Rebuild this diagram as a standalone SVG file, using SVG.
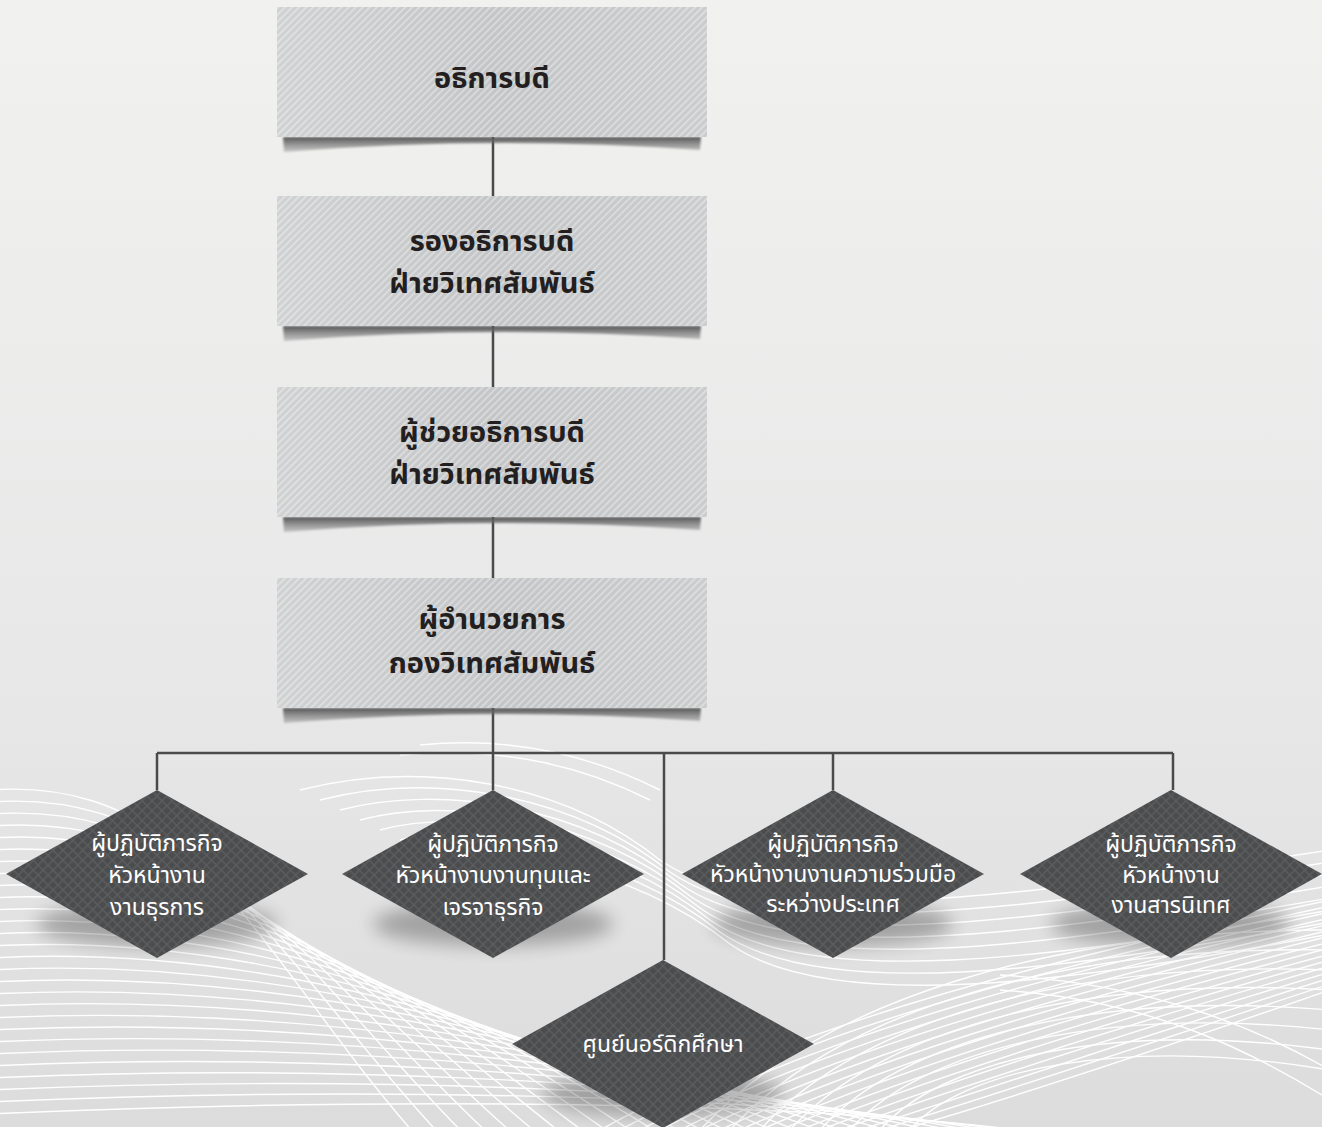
<svg xmlns="http://www.w3.org/2000/svg" width="1322" height="1127" viewBox="0 0 1322 1127">
<defs>
<linearGradient id="bg" x1="0" y1="0" x2="0" y2="1">
<stop offset="0" stop-color="#f1f1f0"/><stop offset="0.6" stop-color="#e8e8e8"/><stop offset="1" stop-color="#dcdcdc"/>
</linearGradient>
<linearGradient id="boxg" x1="0" y1="0" x2="1" y2="0">
<stop offset="0" stop-color="#d0d1d2"/><stop offset="0.5" stop-color="#c4c5c7"/><stop offset="1" stop-color="#cbcccd"/>
</linearGradient>
<pattern id="stripes" width="5" height="5" patternUnits="userSpaceOnUse" patternTransform="rotate(45)">
<rect width="1.6" height="5" fill="#ffffff" opacity="0.4"/>
</pattern>
<pattern id="hatch" width="7" height="7" patternUnits="userSpaceOnUse" patternTransform="rotate(45)">
<rect width="7" height="7" fill="#4b4c4e"/>
<rect width="1.4" height="7" fill="#5c5d5f"/>
<rect width="7" height="1.4" fill="#5c5d5f"/>
</pattern>
<linearGradient id="shg" x1="0" y1="0" x2="0" y2="1">
<stop offset="0" stop-color="#555"/><stop offset="1" stop-color="#888" stop-opacity="0.4"/>
</linearGradient>
<filter id="blur1" x="-5%" y="-50%" width="110%" height="200%"><feGaussianBlur stdDeviation="1.2"/></filter>
<filter id="blur8" x="-30%" y="-100%" width="160%" height="300%"><feGaussianBlur stdDeviation="9"/></filter>
<g id="boxshape">
<path d="M6,130 L424,130 L423,143 Q215,128 7,145 Z" fill="url(#shg)" filter="url(#blur1)"/>
<rect width="430" height="130" fill="url(#boxg)"/>
<rect width="430" height="130" fill="url(#stripes)"/>
</g>
<g id="dshape">
<ellipse cx="0" cy="50" rx="120" ry="22" fill="#000" opacity="0.28" filter="url(#blur8)"/>
<path d="M0,-84 L151,0 L0,84 L-151,0 Z" fill="url(#hatch)"/>
</g>
</defs>
<style>
.bt{font-family:"Noto Sans Thai","Noto Sans","DejaVu Sans",sans-serif;font-size:29px;font-weight:bold;fill:#231f20;text-anchor:middle}
.dt{font-family:"Noto Sans Thai","Noto Sans","DejaVu Sans",sans-serif;font-size:23px;fill:#ffffff;text-anchor:middle}
.wave{fill:none;stroke:#ffffff;stroke-width:1.4}
.conn{fill:none;stroke:#4a4a4b;stroke-width:2.5}
</style>
<rect width="1322" height="1127" fill="url(#bg)"/>
<g id="waves">
<g class="wave">
<path d="M-10,790 C200,775 260,960 420,1140"/>
<path d="M-10,802 C205,787 280,965 445,1140"/>
<path d="M-10,814 C210,799 300,970 470,1140"/>
<path d="M-10,826 C215,811 320,975 495,1140"/>
<path d="M-10,838 C220,823 340,980 520,1140"/>
<path d="M-10,850 C225,835 360,985 545,1140"/>
<path d="M-10,862 C230,847 380,990 570,1140"/>
<path d="M-10,874 C235,859 400,995 595,1140"/>
<path d="M-10,886 C240,871 420,1000 620,1140"/>
<path d="M-10,898 C245,883 440,1005 645,1140"/>
<path d="M-10,910 C250,895 460,1010 670,1140"/>
<path d="M-10,922 C255,907 480,1015 695,1140"/>
<path d="M-10,934 C260,919 500,1020 720,1140"/>
<path d="M-10,946 C265,931 520,1025 745,1140"/>
<path d="M-10,958 C270,943 540,1030 770,1140"/>
<path d="M-10,970 C275,955 560,1035 795,1140"/>
<path d="M-10,982 C280,967 580,1040 820,1140"/>
<path d="M-10,994 C285,979 600,1045 845,1140"/>
<path d="M-10,1006 C290,991 620,1050 870,1140"/>
<path d="M-10,1018 C295,1003 640,1055 895,1140"/>
<path d="M-10,1030 C300,1015 660,1060 920,1140"/>
<path d="M-10,1042 C305,1027 680,1065 945,1140"/>
<path d="M-10,1054 C310,1039 700,1070 970,1140"/>
<path d="M-10,1066 C315,1051 720,1075 995,1140"/>
<path d="M-10,1078 C320,1063 740,1080 1020,1140"/>
<path d="M-10,1090 C325,1075 760,1085 1045,1140"/>
<path d="M-10,1102 C330,1087 780,1090 1070,1140"/>
<path d="M-10,1114 C335,1099 800,1095 1095,1140"/>
</g>
<g class="wave" stroke-width="1.2">
<path d="M300,790 C420,760 560,780 660,860 C760,930 1000,900 1330,850"/>
<path d="M320,800 C430,772 570,792 670,872 C770,942 1010,912 1330,862"/>
<path d="M340,810 C440,784 580,804 680,884 C780,954 1020,924 1330,874"/>
<path d="M360,820 C450,796 590,816 690,896 C790,966 1030,936 1330,886"/>
<path d="M380,830 C460,808 600,828 700,908 C800,978 1040,948 1330,898"/>
<path d="M400,840 C470,820 610,840 710,920 C810,990 1050,960 1330,910"/>
<path d="M420,850 C480,832 620,852 720,932 C820,1002 1060,972 1330,922"/>
<path d="M440,860 C490,844 630,864 730,944 C830,1014 1070,984 1330,934"/>
<path d="M420,745 C520,735 600,760 660,790"/>
<path d="M400,755 C510,745 590,770 650,800"/>
</g>
<g class="wave" stroke-width="1">
<path d="M600,1130 C800,1020 1050,960 1330,900"/>
<path d="M620,1130 C815,1025 1060,965 1330,906"/>
<path d="M640,1130 C830,1030 1070,970 1330,912"/>
<path d="M660,1130 C845,1035 1080,975 1330,918"/>
<path d="M680,1130 C860,1040 1090,980 1330,924"/>
<path d="M700,1130 C875,1045 1100,985 1330,930"/>
<path d="M720,1130 C890,1050 1110,990 1330,936"/>
<path d="M740,1130 C905,1055 1120,995 1330,942"/>
<path d="M760,1130 C920,1060 1130,1000 1330,948"/>
<path d="M780,1130 C935,1065 1140,1005 1330,954"/>
<path d="M800,1130 C950,1070 1150,1010 1330,960"/>
<path d="M820,1130 C965,1075 1160,1015 1330,966"/>
<path d="M840,1130 C980,1080 1170,1020 1330,972"/>
<path d="M860,1130 C995,1085 1180,1025 1330,978"/>
<path d="M880,1130 C1010,1090 1190,1030 1330,984"/>
<path d="M900,1130 C1025,1095 1200,1035 1330,990"/>
<path d="M700,1130 C820,1000 1050,930 1330,930"/>
<path d="M730,1130 C840,1010 1060,945 1330,950"/>
<path d="M760,1130 C860,1020 1070,960 1330,970"/>
<path d="M790,1130 C880,1030 1080,975 1330,990"/>
<path d="M820,1130 C900,1040 1090,990 1330,1010"/>
<path d="M850,1130 C920,1050 1100,1005 1330,1030"/>
<path d="M880,1130 C940,1060 1110,1020 1330,1050"/>
<path d="M910,1130 C960,1070 1120,1035 1330,1070"/>
<path d="M1000,990 C1150,1000 1250,1050 1330,1100"/>
<path d="M1000,975 C1160,985 1260,1030 1330,1070"/>
</g>
</g>
<g id="connectors" class="conn">
<path d="M493,137 V196"/>
<path d="M493,326 V387"/>
<path d="M493,517 V578"/>
<path d="M493,708 V753"/>
<path d="M157,753 H1173"/>
<path d="M157,753 V790"/>
<path d="M493,753 V790"/>
<path d="M664,753 V960"/>
<path d="M833,753 V790"/>
<path d="M1173,753 V790"/>
</g>
<g id="n1"><use href="#boxshape" x="277" y="7"/><text class="bt" x="492" y="88">อธิการบดี</text></g>
<g id="n2"><use href="#boxshape" x="277" y="196"/><text class="bt" x="492" y="251">รองอธิการบดี</text><text class="bt" x="492" y="293">ฝ่ายวิเทศสัมพันธ์</text></g>
<g id="n3"><use href="#boxshape" x="277" y="387"/><text class="bt" x="492" y="442">ผู้ช่วยอธิการบดี</text><text class="bt" x="492" y="484">ฝ่ายวิเทศสัมพันธ์</text></g>
<g id="n4"><use href="#boxshape" x="277" y="578"/><text class="bt" x="492" y="629">ผู้อำนวยการ</text><text class="bt" x="492" y="673">กองวิเทศสัมพันธ์</text></g>
<g id="d1"><use href="#dshape" x="157" y="874"/><text class="dt" x="157" y="851">ผู้ปฏิบัติภารกิจ</text><text class="dt" x="157" y="883">หัวหน้างาน</text><text class="dt" x="157" y="915">งานธุรการ</text></g>
<g id="d2"><use href="#dshape" x="493" y="874"/><text class="dt" x="493" y="852">ผู้ปฏิบัติภารกิจ</text><text class="dt" x="493" y="883">หัวหน้างานงานทุนและ</text><text class="dt" x="493" y="915">เจรจาธุรกิจ</text></g>
<g id="d3"><use href="#dshape" x="833" y="874"/><text class="dt" x="833" y="852">ผู้ปฏิบัติภารกิจ</text><text class="dt" x="833" y="882">หัวหน้างานงานความร่วมมือ</text><text class="dt" x="833" y="912">ระหว่างประเทศ</text></g>
<g id="d4"><use href="#dshape" x="1171" y="874"/><text class="dt" x="1171" y="852">ผู้ปฏิบัติภารกิจ</text><text class="dt" x="1171" y="883">หัวหน้างาน</text><text class="dt" x="1171" y="913">งานสารนิเทศ</text></g>
<g id="d5"><use href="#dshape" x="663" y="1044"/><text class="dt" x="663" y="1052" font-size="26">ศูนย์นอร์ดิกศึกษา</text></g>
</svg>
